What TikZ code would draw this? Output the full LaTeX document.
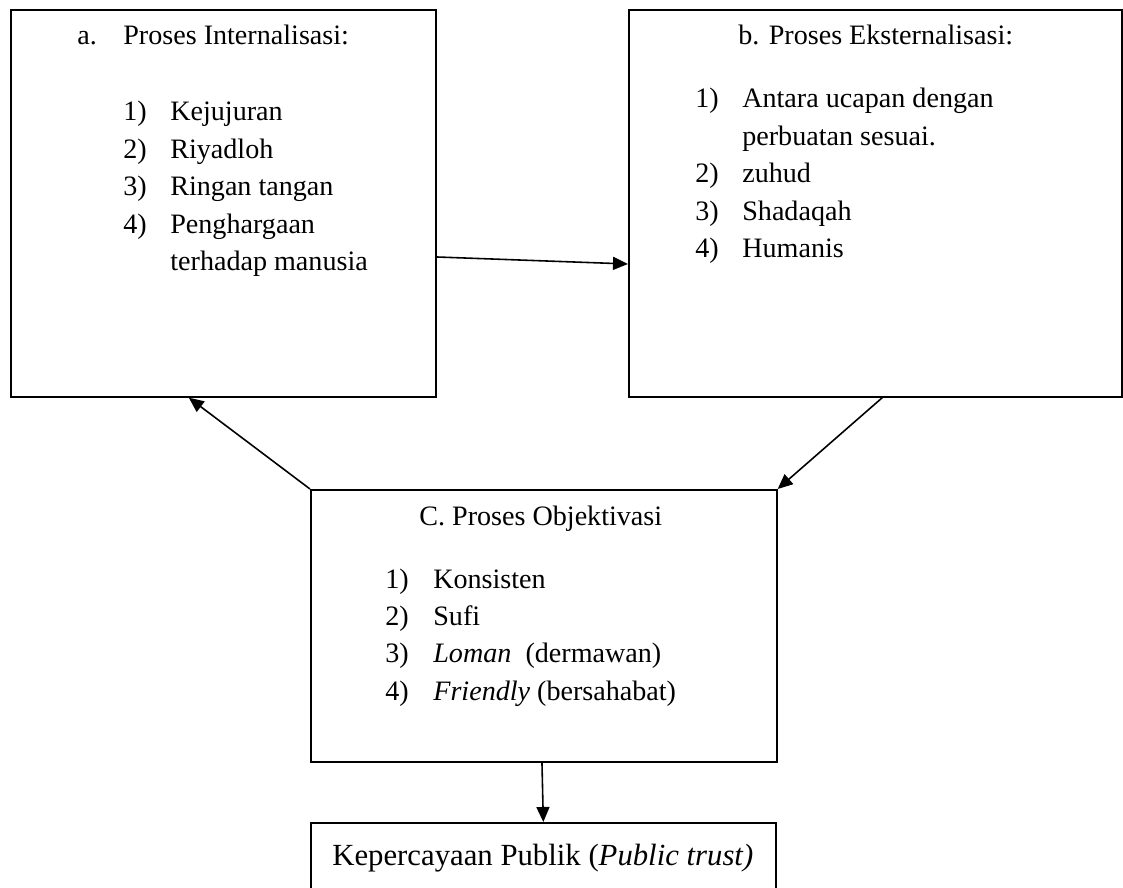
\documentclass[tikz,border=0pt]{standalone}
\usepackage{fontspec}
\setmainfont{Liberation Serif}
\usetikzlibrary{arrows.meta, calc}

\tikzset{
  box/.style={draw, line width=1pt, rectangle, inner sep=0pt, anchor=north west},
  flow/.style={-{Triangle[length=0.3cm, width=0.26cm]}, line width=0.9pt},
  txt/.style={anchor=base west, inner sep=0pt, font=\fontsize{16}{21.3}\selectfont}
}

\begin{document}
\begin{tikzpicture}[x=0.02cm, y=-0.02cm]
    \useasboundingbox (0,0) rectangle (1123,888);
    % Boxes
    \node[box, minimum width=8.5cm, minimum height=7.74cm] (intern) at (10,9) {};
    \node[box, minimum width=9.86cm, minimum height=7.74cm] (extern) at (628,9) {};
    \node[box, minimum width=9.32cm, minimum height=5.44cm] (objek) at (310,489) {};
    \node[box, minimum width=9.3cm, minimum height=1.6cm] (publik) at (310,822) {};
    % a. Internalisasi
    \node[txt] (internTitle) at (77,45) {\makebox[0.92cm][l]{a.}Proses Internalisasi:};
    \node[txt] (internList) at (123,121) {\begin{tabular}[t]{@{}p{0.94cm}@{}l@{}}
        1) & Kejujuran\\
        2) & Riyadloh\\
        3) & Ringan tangan\\
        4) & Penghargaan\\
           & terhadap manusia
    \end{tabular}};
    % b. Eksternalisasi
    \node[txt] (externTitle) at (738,45) {b. Proses Eksternalisasi:};
    \node[txt] (externList) at (695,108) {\begin{tabular}[t]{@{}p{0.94cm}@{}l@{}}
        1) & Antara ucapan dengan\\
           & perbuatan sesuai.\\
        2) & zuhud\\
        3) & Shadaqah\\
        4) & Humanis
    \end{tabular}};
    % C. Objektivasi
    \node[txt] (objekTitle) at (419,525) {C. Proses Objektivasi};
    \node[txt] (objekList) at (385,588) {\begin{tabular}[t]{@{}p{0.96cm}@{}l@{}}
        1) & Konsisten\\
        2) & Sufi\\
        3) & \textit{Loman}\ \ (dermawan)\\
        4) & \textit{Friendly} (bersahabat)
    \end{tabular}};
    % Public trust
    \node[txt, font=\fontsize{17.5}{21.3}\selectfont] (publikText) at (332,865) {Kepercayaan Publik (\textit{Public trust)}};
    % Arrows
    \draw[flow] ($(intern.north east)!0.638!(intern.south east)$) -- ($(extern.north west)!0.656!(extern.south west)$);
    \draw[flow] ($(extern.south west)!0.514!(extern.south east)$) -- (objek.north east);
    \draw[flow] (objek.north west) -- ($(intern.south west)!0.419!(intern.south east)$);
    \draw[flow] ($(objek.south west)!0.496!(objek.south east)$) -- (publik.north);
\end{tikzpicture}
\end{document}
